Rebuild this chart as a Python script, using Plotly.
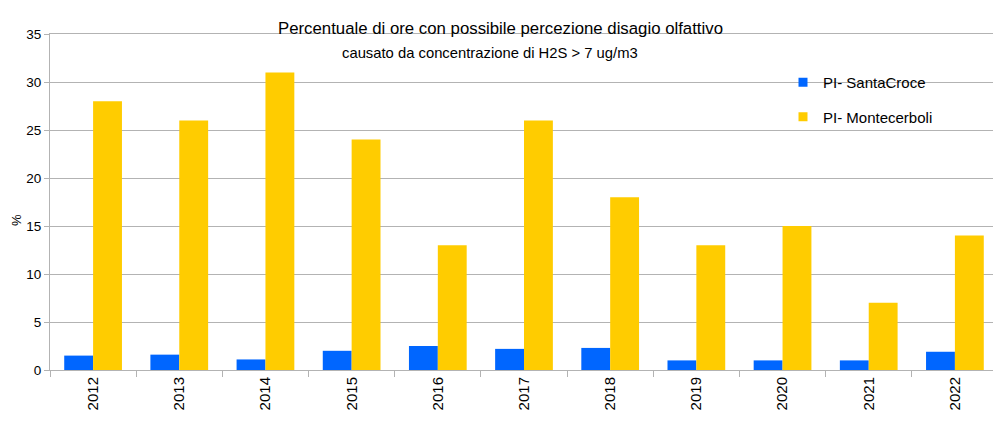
import plotly.graph_objects as go

years = ["2012", "2013", "2014", "2015", "2016", "2017", "2018", "2019", "2020", "2021", "2022"]
santacroce = [1.5, 1.6, 1.1, 2.0, 2.5, 2.2, 2.3, 1.0, 1.0, 1.0, 1.9]
montecerboli = [28, 26, 31, 24, 13, 26, 18, 13, 15, 7, 14]
series_names = ["PI- SantaCroce", "PI- Montecerboli"]
series_colors = ["#0066ff", "#ffcc00"]

FONT = "Liberation Sans, Arial, sans-serif"
OFF = 8  # page body margin
W, H = 993, 432
ML, MR, MT, MB = 42, 3, 26, 70
PW, PH = W - ML - MR, H - MT - MB


def px_x(x):
    return (x - OFF - ML) / PW


def px_y(y):
    return (H - MB - (y - OFF)) / PH


fig = go.Figure()
for vals, name, col in zip([santacroce, montecerboli], series_names, series_colors):
    fig.add_trace(go.Bar(x=years, y=vals, name=name, marker_color=col,
                         marker_line_width=0, showlegend=False))
# legend entries with small square symbols
for i, (name, col) in enumerate(zip(series_names, series_colors)):
    fig.add_trace(go.Scatter(x=[None], y=[None], mode="markers", name=name,
                             legendgroup=f"g{i}",
                             marker=dict(symbol="square", size=9, color=col)))

fig.update_layout(
    width=W, height=H,
    margin=dict(l=ML, r=MR, t=MT, b=MB, autoexpand=False),
    paper_bgcolor="white", plot_bgcolor="white",
    barmode="group", bargap=0.33, bargroupgap=0,
    font=dict(family=FONT, color="#000000"),
    showlegend=True,
    legend=dict(x=px_x(783), y=px_y(66), xanchor="left", yanchor="top",
                font=dict(size=15, family=FONT), bgcolor="rgba(0,0,0,0)",
                tracegroupgap=12, itemwidth=30, traceorder="grouped"),
    annotations=[
        dict(text="Percentuale di ore con possibile percezione disagio olfattivo",
             x=px_x(500), y=px_y(28), font=dict(size=16.8, family=FONT)),
        dict(text="causato da concentrazione di H2S > 7 ug/m3",
             x=px_x(490), y=px_y(53), font=dict(size=14.8, family=FONT)),
        dict(text="%", x=px_x(16), y=px_y(220), textangle=-90,
             font=dict(size=13, family=FONT)),
    ],
)
for a in fig.layout.annotations:
    a.xref = "paper"; a.yref = "paper"; a.showarrow = False
    a.xanchor = "center"; a.yanchor = "middle"

fig.update_xaxes(type="category", tickson="boundaries", ticks="outside", ticklen=6,
                 tickcolor="#b3b3b3", tickangle=-90, tickfont=dict(size=15, family=FONT),
                 showline=True, linecolor="#b3b3b3", mirror=True, showgrid=False,
                 automargin=False)
fig.update_yaxes(range=[0, 35], dtick=5, ticks="outside", ticklen=5, tickcolor="#b3b3b3",
                 tickfont=dict(size=13.5, family=FONT), showline=True, linecolor="#b3b3b3",
                 mirror=True, showgrid=True, gridcolor="#b3b3b3", zeroline=False,
                 automargin=False)

fig.write_html("out.html")
